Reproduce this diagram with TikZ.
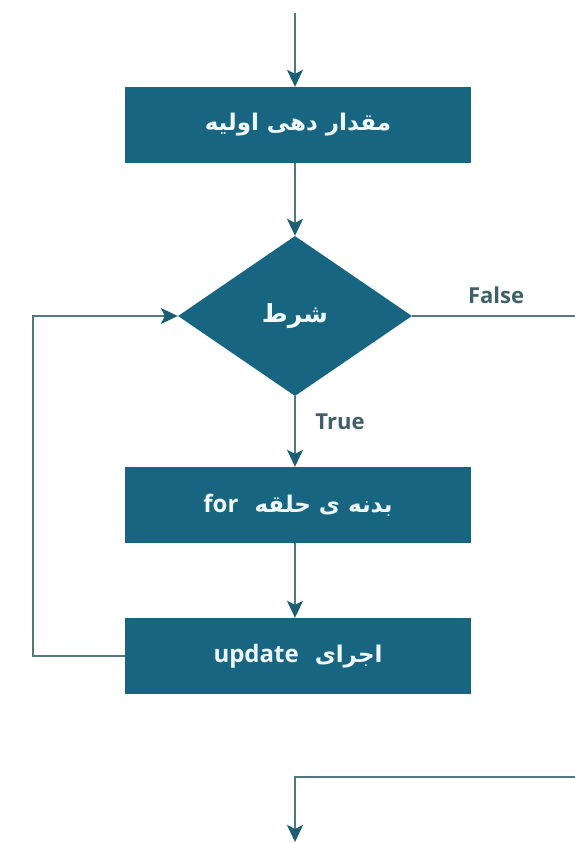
\documentclass[tikz,border=0pt]{standalone}
\usepackage{fontspec}
\setmainfont{Open Sans}
\newfontfamily\farsi[Script=Arabic]{DejaVu Sans}
\newfontfamily\latinb{Open Sans}
\TeXXeTstate=1
\usetikzlibrary{shapes.geometric, arrows.meta}
\definecolor{boxteal}{HTML}{186582}
\definecolor{linegray}{HTML}{52787F}
\definecolor{tipteal}{HTML}{1C5E74}
\definecolor{labelgray}{HTML}{3F5F69}
\definecolor{boxtext}{HTML}{EEF8F8}

\begin{document}
\begin{tikzpicture}[x=1pt, y=-1pt]
\tikzstyle{block}=[rectangle, fill=boxteal, text=boxtext, minimum width=346pt, minimum height=76pt, inner sep=0pt, font=\farsi\bfseries\fontsize{23}{26}\selectfont]
\tikzstyle{decision}=[diamond, fill=boxteal, text=boxtext, minimum width=234pt, minimum height=160pt, aspect=1.46, inner sep=0pt, font=\farsi\bfseries\fontsize{25}{28}\selectfont]
\tikzstyle{flow}=[draw=linegray, line width=1.6pt, -{Stealth[length=17pt, width=16pt, inset=4pt, color=tipteal]}]
\tikzstyle{wire}=[draw=linegray, line width=1.6pt]
\tikzstyle{tag}=[text=labelgray, font=\bfseries\fontsize{22}{24}\selectfont]
\useasboundingbox (0,0) rectangle (575,843);

\coordinate (start) at (295,13);
\node[block] (init) at (298,125) {\beginR مقدار دهی اولیه\endR};
\node[decision] (cond) at (295,316) {\beginR شرط\endR};
\node[block] (body) at (298,505) {\beginR بدنه ی حلقه\ \ \beginL{\latinb\fontsize{24}{26}\selectfont for}\endL\endR};
\node[block] (upd) at (298,656) {\beginR اجرای\ \ \beginL{\latinb\fontsize{24}{26}\selectfont update}\endL\endR};
\node[tag] (falsetag) at (496,295) {False};
\node[tag] (truetag) at (340,422) {True};
\coordinate (falseend) at (575,316);
\coordinate (loopcorner) at (33,656);
\coordinate (exitstart) at (575,777);
\coordinate (exitend) at (295,842);

\path[flow] (start) -- (init.north -| start);
\path[flow] (init.south -| cond) -- (cond);
\path[flow] (cond) -- (body.north -| cond);
\path[flow] (body.south -| cond) -- (upd.north -| cond);
\path[flow] (upd.west) -- (loopcorner) |- (cond.west);
\path[wire] (cond.east) -- (falseend);
\path[flow] (exitstart) -| (exitend);

\end{tikzpicture}
\end{document}
